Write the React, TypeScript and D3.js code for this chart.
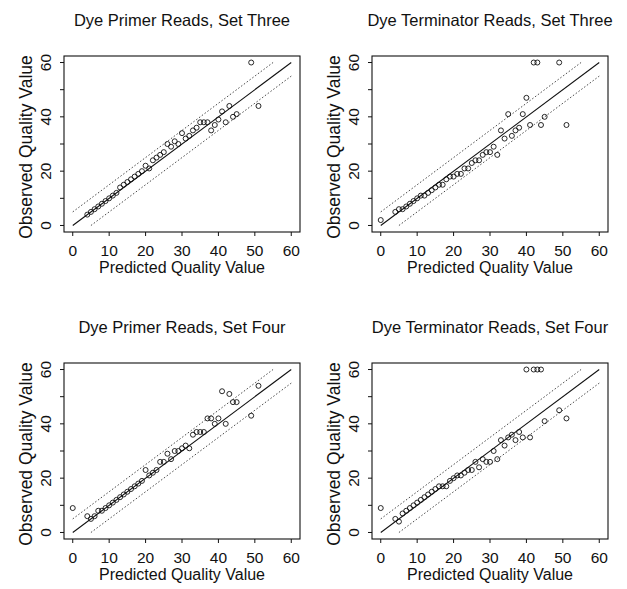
import React from 'react';
import * as d3 from 'd3';

const primer3Pred = [4, 5, 6, 7, 8, 9, 10, 11, 12, 13, 14, 15, 16, 17, 18, 19, 20, 21, 22, 23, 24, 25, 26, 27, 28, 29, 30, 31, 32, 33, 34, 35, 36, 37, 38, 39, 40, 41, 42, 43, 44, 45, 49, 51];
const primer3Obs = [4, 5, 6, 7, 8, 9, 10, 11, 12, 14, 15, 16, 17, 18, 19, 20, 22, 21, 24, 25, 26, 27, 30, 29, 31, 30, 34, 32, 33, 35, 36, 38, 38, 38, 35, 37, 39, 42, 38, 44, 40, 41, 60, 44];

const term3Pred = [0, 4, 5, 6, 7, 8, 9, 10, 11, 12, 13, 14, 15, 16, 17, 18, 19, 20, 21, 22, 23, 24, 25, 26, 27, 28, 29, 30, 31, 32, 33, 34, 35, 36, 37, 38, 39, 40, 41, 42, 43, 44, 45, 49, 51];
const term3Obs = [2, 5, 6, 6, 7, 8, 9, 10, 11, 11, 12, 13, 14, 15, 15, 17, 18, 18, 19, 19, 21, 21, 23, 24, 24, 26, 27, 27, 29, 26, 35, 32, 41, 33, 35, 36, 41, 47, 37, 60, 60, 37, 40, 60, 37];

const primer4Pred = [0, 4, 5, 6, 7, 8, 9, 10, 11, 12, 13, 14, 15, 16, 17, 18, 19, 20, 21, 22, 23, 24, 25, 26, 27, 28, 29, 30, 31, 32, 33, 34, 35, 36, 37, 38, 39, 40, 41, 42, 43, 44, 45, 49, 51];
const primer4Obs = [9, 6, 5, 6, 8, 8, 9, 10, 11, 12, 13, 14, 15, 16, 17, 18, 19, 23, 21, 22, 23, 26, 26, 29, 27, 30, 30, 31, 32, 31, 36, 37, 37, 37, 42, 42, 40, 42, 52, 40, 51, 48, 48, 43, 54];

const term4Pred = [0, 4, 5, 6, 7, 8, 9, 10, 11, 12, 13, 14, 15, 16, 17, 18, 19, 20, 21, 22, 23, 24, 25, 26, 27, 28, 29, 30, 31, 32, 33, 34, 35, 36, 37, 38, 39, 40, 41, 42, 43, 44, 45, 49, 51];
const term4Obs = [9, 5, 4, 7, 8, 9, 10, 11, 12, 13, 14, 15, 16, 17, 17, 17, 19, 20, 21, 21, 22, 23, 23, 26, 24, 27, 26, 26, 30, 27, 34, 32, 35, 36, 34, 37, 35, 60, 35, 60, 60, 60, 41, 45, 42];

const xTicks = [0, 10, 20, 30, 40, 50, 60];
const yTicks = [0, 10, 20, 30, 40, 50, 60];
const yLabels = [0, 20, 40, 60];
const bandOffset = 5;

const FONT = '"Liberation Sans", Arial, Helvetica, sans-serif';
const W = 236;
const H = 176;

type PanelProps = { title: string; pred: number[]; obs: number[]; left: number; top: number };

const Panel = ({ title, pred, obs, left, top }: PanelProps) => {
  const x = d3.scaleLinear().domain([-2.4, 62.4]).range([left, left + W]);
  const y = d3.scaleLinear().domain([-2.4, 62.4]).range([top + H, top]);
  const line = d3.line<[number, number]>().x(d => x(d[0])).y(d => y(d[1]));

  // y = x, and the +/- band
  const diag: [number, number][] = [[0, 0], [60, 60]];
  const upper: [number, number][] = [[0, bandOffset], [60 - bandOffset, 60]];
  const lower: [number, number][] = [[bandOffset, 0], [60, 60 - bandOffset]];

  const cx = (left + left + W) / 2;
  const cy = (top + top + H) / 2;

  return (
    <g fontFamily={FONT} fill="#111">
      <text x={cx} y={top - 30} textAnchor="middle" fontSize={16.5}>{title}</text>
      <rect x={left} y={top} width={W} height={H} fill="none" stroke="#111" strokeWidth={1.1} />
      <path d={line(lower) || ''} fill="none" stroke="#333" strokeWidth={0.9} strokeDasharray="1.5,2" />
      <path d={line(upper) || ''} fill="none" stroke="#333" strokeWidth={0.9} strokeDasharray="1.5,2" />
      <path d={line(diag) || ''} fill="none" stroke="#111" strokeWidth={1.1} />
      {pred.map((p, i) => (
        <circle key={i} cx={x(p)} cy={y(obs[i])} r={2.5} fill="none" stroke="#111" strokeWidth={0.9} />
      ))}
      {xTicks.map(t => (
        <g key={'x' + t}>
          <line x1={x(t)} x2={x(t)} y1={top + H} y2={top + H + 4} stroke="#111" />
          <text x={x(t)} y={top + H + 24} textAnchor="middle" fontSize={15.5}>{t}</text>
        </g>
      ))}
      {yTicks.map(t => (
        <line key={'y' + t} x1={left} x2={left - 4} y1={y(t)} y2={y(t)} stroke="#111" />
      ))}
      {yLabels.map(t => (
        <text key={'yl' + t} transform={`translate(${left - 13},${y(t)}) rotate(-90)`} textAnchor="middle" fontSize={15.5}>{t}</text>
      ))}
      <text x={cx} y={top + H + 41} textAnchor="middle" fontSize={16}>Predicted Quality Value</text>
      <text transform={`translate(${left - 32},${cy + 3}) rotate(-90)`} textAnchor="middle" fontSize={17.5}>Observed Quality Value</text>
    </g>
  );
};

const App = () => (
  <svg width={627} height={589} style={{ position: 'absolute', left: 0, top: 0, background: '#fff' }}>
    <rect width={627} height={589} fill="#fff" />
    <Panel title="Dye Primer Reads, Set Three" pred={primer3Pred} obs={primer3Obs} left={64} top={56} />
    <Panel title="Dye Terminator Reads, Set Three" pred={term3Pred} obs={term3Obs} left={372} top={56} />
    <Panel title="Dye Primer Reads, Set Four" pred={primer4Pred} obs={primer4Obs} left={64} top={363} />
    <Panel title="Dye Terminator Reads, Set Four" pred={term4Pred} obs={term4Obs} left={372} top={363} />
  </svg>
);

export default App;
